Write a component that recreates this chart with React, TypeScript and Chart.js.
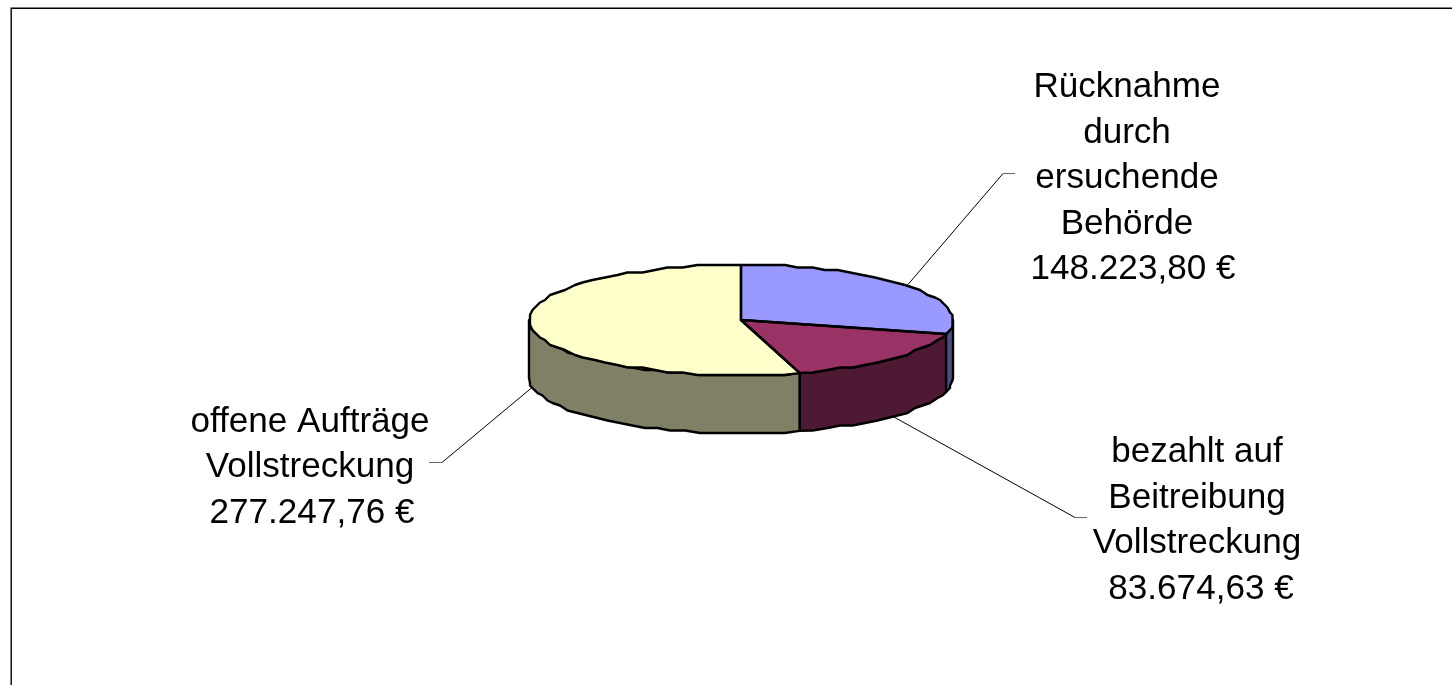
import React, { useEffect, useRef } from "react";
import { Chart, registerables } from "chart.js";

Chart.register(...registerables);

const categories = [
  ["Rücknahme", "durch", "ersuchende", "Behörde"],
  ["bezahlt auf", "Beitreibung", "Vollstreckung"],
  ["offene Aufträge", "Vollstreckung"],
];
const amounts = [148223.8, 83674.63, 277247.76];
const sliceColors = ["#9999FF", "#993366", "#FFFFCC"];
const wallColors = ["#4D4D80", "#4D1933", "#808066"];

const FLATTEN = 55 / 212;
const DEPTH = 58;
const FONT = '35.1px "Liberation Sans", Arial, sans-serif';
const LINE_HEIGHT = 45.6;
const OUTLINE = 2.4;
const GRID = 2.5;
const labelAnchors = [
  { x: 1127, y: 97, valueShift: 6 },
  { x: 1197, y: 462, valueShift: 4 },
  { x: 310, y: 431.5, valueShift: 2 },
];
const leaderPaths = [
  [[908, 284], [1003, 173]],
  [[893, 416], [1075, 517]],
  [[532, 387], [442, 462]],
];
const leaderEnds = [
  [[1003, 173], [1015, 173]],
  [[1075, 517], [1087, 517]],
  [[442, 462], [429, 462]],
];

const formatEuro = (v: number) =>
  v.toLocaleString("de-DE", { minimumFractionDigits: 2, maximumFractionDigits: 2 }) + " €";

const arcPoints = (cx: number, cy: number, r: number, a0: number, a1: number, step = 0.02) => {
  const steps = Math.max(2, Math.ceil(Math.abs(a1 - a0) / step));
  const pts: number[][] = [];
  for (let i = 0; i <= steps; i++) {
    const a = a0 + ((a1 - a0) * i) / steps;
    pts.push([cx + r * Math.cos(a), cy + r * FLATTEN * Math.sin(a)]);
  }
  return pts;
};

// The reference outline is a coarse polygon: same arcs, with vertices held to a rough grid.
const rough = (pts: number[][]) =>
  pts.map((p, i) =>
    i === 0 || i === pts.length - 1
      ? p
      : [Math.round(p[0] / GRID) * GRID, Math.round(p[1] / GRID) * GRID]
  );

const trace = (ctx: any, pts: number[][], dy = 0, move = true) =>
  pts.forEach((p, k) =>
    k === 0 && move ? ctx.moveTo(p[0], p[1] + dy) : ctx.lineTo(p[0], p[1] + dy)
  );

const pie3d = {
  id: "pie3d",
  beforeDatasetsDraw(chart: any) {
    const ctx = chart.ctx;
    const arcs = chart.getDatasetMeta(0).data;
    ctx.save();
    ctx.lineWidth = OUTLINE;
    ctx.strokeStyle = "#000";
    ctx.lineJoin = "round";
    arcs.forEach((arc: any, i: number) => {
      const a0 = Math.max(arc.startAngle, 0);
      const a1 = Math.min(arc.endAngle, Math.PI);
      if (a1 <= a0) return;
      const top = rough(arcPoints(arc.x, arc.y, arc.outerRadius, a0, a1, 0.07));
      ctx.beginPath();
      trace(ctx, top);
      trace(ctx, [...top].reverse(), DEPTH, false);
      ctx.closePath();
      ctx.fillStyle = wallColors[i];
      ctx.fill();
      ctx.stroke();
    });
    ctx.restore();
    const a = arcs[0];
    ctx.save();
    ctx.translate(a.x, a.y);
    ctx.scale(1, FLATTEN);
    ctx.translate(-a.x, -a.y);
  },
  afterDatasetsDraw(chart: any) {
    const ctx = chart.ctx;
    ctx.restore();
    const arcs = chart.getDatasetMeta(0).data;
    ctx.save();
    ctx.lineWidth = OUTLINE;
    ctx.strokeStyle = "#000";
    ctx.lineJoin = "round";
    arcs.forEach((arc: any) => {
      const pts = rough(arcPoints(arc.x, arc.y, arc.outerRadius, arc.startAngle, arc.endAngle, 0.07));
      ctx.beginPath();
      ctx.moveTo(arc.x, arc.y);
      trace(ctx, pts, 0, false);
      ctx.closePath();
      ctx.stroke();
    });
    ctx.restore();
  },
  afterDraw(chart: any) {
    const ctx = chart.ctx;
    ctx.save();
    ctx.strokeStyle = "#000";
    ctx.lineWidth = 1.4;
    ctx.beginPath();
    ctx.moveTo(11.2, chart.height);
    ctx.lineTo(11.2, 8.2);
    ctx.lineTo(chart.width, 8.2);
    ctx.stroke();
    ctx.lineWidth = 1;
    leaderPaths.forEach((path) => {
      ctx.beginPath();
      trace(ctx, path, 0.5);
      ctx.stroke();
    });
    ctx.strokeStyle = "#666";
    leaderEnds.forEach((path) => {
      ctx.beginPath();
      trace(ctx, path, 0.5);
      ctx.stroke();
    });
    ctx.fillStyle = "#000";
    ctx.font = FONT;
    ctx.textAlign = "center";
    ctx.textBaseline = "alphabetic";
    categories.forEach((lines, i) => {
      const { x, y, valueShift } = labelAnchors[i];
      lines.forEach((line, k) => ctx.fillText(line, x, y + k * LINE_HEIGHT));
      ctx.fillText(formatEuro(amounts[i]), x + valueShift, y + lines.length * LINE_HEIGHT);
    });
    ctx.restore();
  },
};

export default function App() {
  const ref = useRef<HTMLCanvasElement>(null);
  useEffect(() => {
    const chart = new Chart(ref.current!, {
      type: "pie",
      data: {
        labels: categories.map((c) => c.join(" ")),
        datasets: [{ data: amounts, backgroundColor: sliceColors, borderWidth: 0 }],
      },
      options: {
        animation: false,
        responsive: false,
        rotation: 0,
        layout: { padding: { left: 529, right: 499, top: 108, bottom: 153 } },
        plugins: { legend: { display: false }, tooltip: { enabled: false } },
      },
      plugins: [pie3d],
    });
    return () => chart.destroy();
  }, []);
  return (
    <div style={{ position: "fixed", left: 0, top: 0, width: 1452, height: 685, background: "#fff" }}>
      <canvas ref={ref} width={1452} height={685} style={{ display: "block" }} />
    </div>
  );
}
